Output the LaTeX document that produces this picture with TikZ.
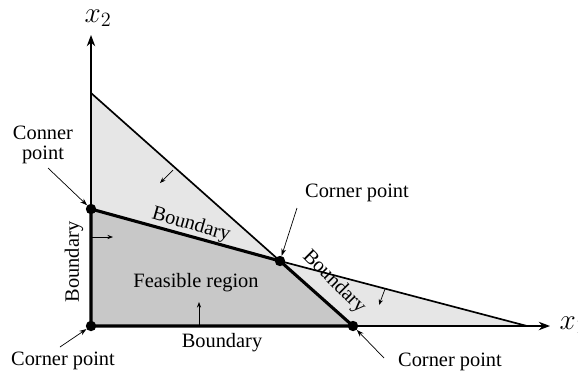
\documentclass[tikz,border=0pt]{standalone}
\usepackage{fontspec}
\setmainfont{Liberation Serif}
\usetikzlibrary{arrows.meta,calc}
\tikzset{
    axis/.style={-{Stealth[length=8pt,width=6pt]}, line width=0.9pt},
    edge/.style={line width=1.2pt},
    bound/.style={line width=2.2pt, line cap=round},
    dot/.style={circle, fill=black, inner sep=0pt, minimum size=0.26cm},
    pointer/.style={-{Stealth[length=5pt,width=3.5pt]}, line width=0.5pt},
    side/.style={-{Stealth[length=4pt,width=3pt]}, line width=0.5pt},
    label/.style={font=\fontsize{14.5}{16}\selectfont, align=center},
    axislabel/.style={font=\fontsize{20}{22}\selectfont, inner sep=1pt},
}
\definecolor{lightzone}{RGB}{230,230,230}
\definecolor{feaszone}{RGB}{200,200,200}

\begin{document}
\begin{tikzpicture}[x=0.025cm, y=-0.025cm]
    \useasboundingbox (0,0) rectangle (578,376);

    % corners of the region
    \coordinate (O) at (91,326);
    \coordinate (A) at (91,209);
    \coordinate (B) at (280,261);
    \coordinate (C) at (353,326);
    \coordinate (P) at (91,93);
    \coordinate (Q) at (527,326);
    \coordinate (ytip) at (91,35);
    \coordinate (xtip) at (550,326);

    % shaded zones
    \fill[lightzone] (P) -- (B) -- (Q) -- (C) -- (O) -- cycle;
    \fill[feaszone] (O) -- (A) -- (B) -- (C) -- cycle;

    % axes
    \draw[axis] (O) -- (ytip);
    \draw[axis] (O) -- (xtip);
    \node[axislabel] (x2) at (98,18) {$x_2$};
    \node[axislabel, anchor=west] (x1) at (558,325) {$x_1$};

    % constraint lines
    \draw[edge] (P) -- (B);
    \draw[edge] (B) -- (Q);
    \draw[bound] (O) -- (A) -- (B) -- (C) -- cycle;

    % side arrows
    \draw[side] (173,170) -- (160,183);
    \draw[side] (91,237) -- (113,237);
    \draw[side] (199,326) -- (199,302);
    \draw[side] (385,289) -- (379,305);

    % corner dots
    \node[dot] (dA) at (A) {};
    \node[dot] (dB) at (B) {};
    \node[dot] (dC) at (C) {};
    \node[dot] (dO) at (O) {};

    % labels
    \node[label] (conner) at (43,145) {Conner\\[-2pt]point};
    \node[label] (topcorner) at (357,193) {Corner point};
    \node[label] (rightcorner) at (450,362) {Corner point};
    \node[label] (leftcorner) at (63,361) {Corner point};
    \node[label, rotate=-16] (bupper) at (191,225) {Boundary};
    \node[label, rotate=-45] (bright) at (334,282) {Boundary};
    \node[label, rotate=90] (bleft) at (74,262) {Boundary};
    \node[label] (bbottom) at (222,343) {Boundary};
    \node[label] (feasible) at (196,283) {Feasible region};

    % pointers to the corners
    \coordinate (cA) at (48,168);
    \coordinate (cB) at (297,208);
    \coordinate (cC) at (384,358);
    \coordinate (cO) at (60,347);
    \draw[pointer] (cA) -- (dA);
    \draw[pointer] (cB) -- (dB);
    \draw[pointer] (cC) -- (dC);
    \draw[pointer] (cO) -- (dO);
\end{tikzpicture}
\end{document}
